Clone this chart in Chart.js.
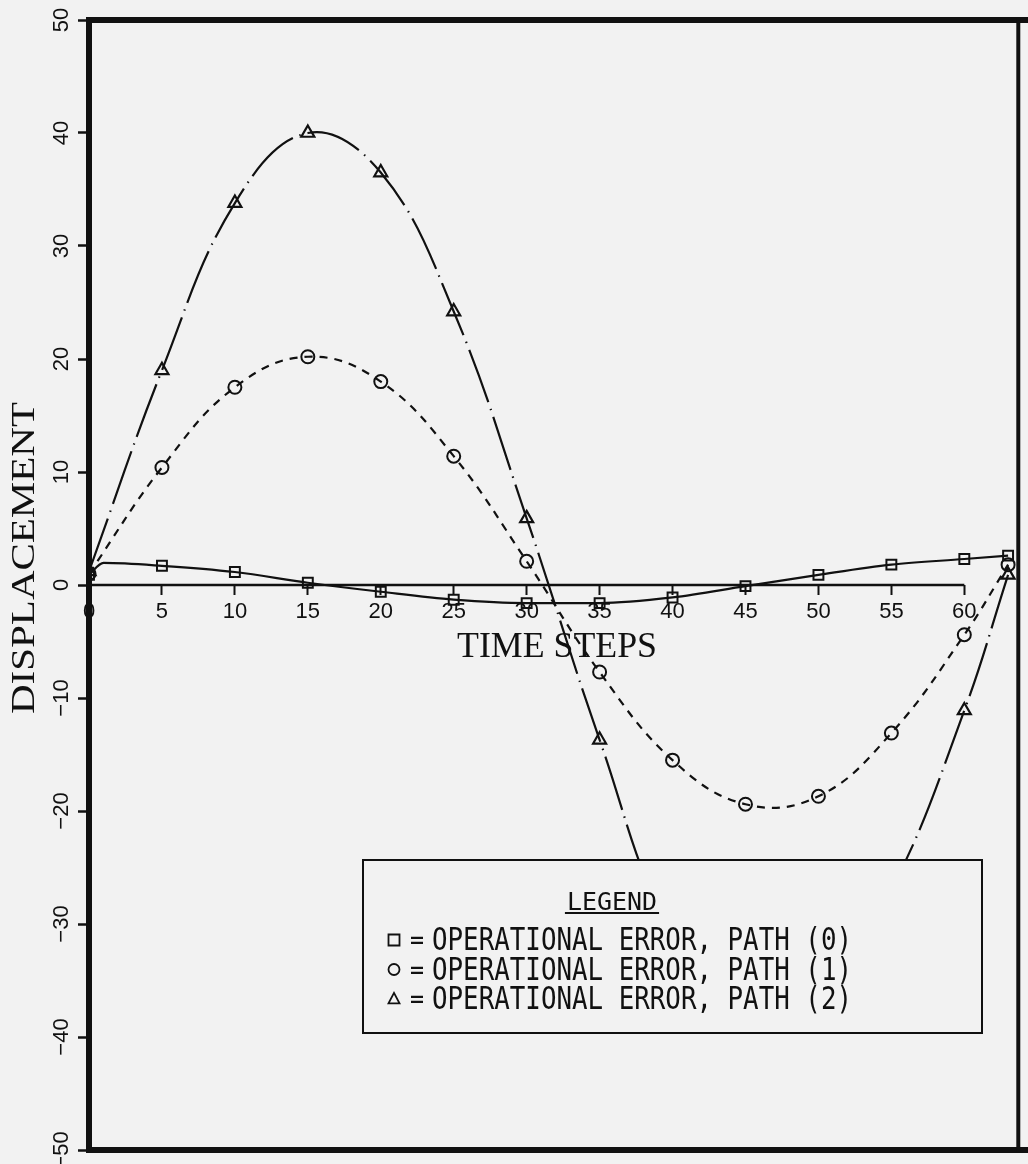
<!DOCTYPE html>
<html>
<head>
<meta charset="utf-8">
<script src="https://cdn.jsdelivr.net/npm/chart.js@4/dist/chart.umd.min.js"></script>
<style>
  html, body { margin: 0; padding: 0; background: #f2f2f2; }
  #wrap { width: 1028px; height: 1164px; }
</style>
</head>
<body>
<div id="wrap"><canvas id="chart" width="1028" height="1164"></canvas></div>
<script>
// time steps where the markers sit
const timeSteps = [0, 5, 10, 15, 20, 25, 30, 35, 40, 45, 50, 55, 60, 63];
// path (0) has one extra unmarked knot at t=1 where the curve bumps up
const path0Steps = [0, 1, 5, 10, 15, 20, 25, 30, 35, 40, 45, 50, 55, 60, 63];
const path0 = [0.9, 1.95, 1.7, 1.15, 0.2, -0.6, -1.3, -1.6, -1.6, -1.1, -0.1, 0.9, 1.8, 2.3, 2.6];
const path1 = [1.0, 10.4, 17.5, 20.2, 18.0, 11.4, 2.1, -7.7, -15.5, -19.4, -18.7, -13.1, -4.4, 1.8];
// 40..55 lie behind the legend box, estimated from the visible ends
const path2 = [1.2, 19.0, 33.8, 40.0, 36.5, 24.2, 5.9, -13.7, -31.0, -37.5, -36.5, -27.0, -11.1, 0.9];

const xTicks = [0, 5, 10, 15, 20, 25, 30, 35, 40, 45, 50, 55, 60];
const yTicks = [-50, -40, -30, -20, -10, 0, 10, 20, 30, 40, 50];

const xTitle = 'TIME STEPS';
const yTitle = 'DISPLACEMENT';
const legendTitle = 'LEGEND';
const legendLabels = ['OPERATIONAL ERROR, PATH (0)', 'OPERATIONAL ERROR, PATH (1)', 'OPERATIONAL ERROR, PATH (2)'];
const legendMarkers = ['rect', 'circle', 'triangle'];

const INK = '#111';
const PAPER = '#f2f2f2';

function toPoints(xs, ys) {
  return ys.map((y, i) => ({ x: xs[i], y: y }));
}

function drawMarker(ctx, style, x, y, r) {
  ctx.beginPath();
  if (style === 'rect') {
    ctx.rect(x - r, y - r, r * 2, r * 2);
  } else if (style === 'circle') {
    ctx.arc(x, y, r, 0, Math.PI * 2);
  } else {
    ctx.moveTo(x, y - r * 1.1);
    ctx.lineTo(x + r, y + r * 0.8);
    ctx.lineTo(x - r, y + r * 0.8);
    ctx.closePath();
  }
  ctx.stroke();
}

// stretches a text horizontally to a given width
function fitText(ctx, text, x, y, width, sy) {
  const w = ctx.measureText(text).width;
  ctx.save();
  ctx.translate(x, y);
  ctx.scale(width / w, sy || 1);
  ctx.fillText(text, 0, 0);
  ctx.restore();
}

const paperPlugin = {
  id: 'paper',
  beforeDraw(chart) {
    const ctx = chart.ctx;
    ctx.save();
    ctx.fillStyle = PAPER;
    ctx.fillRect(0, 0, chart.width, chart.height);
    ctx.restore();
  }
};

const decorPlugin = {
  id: 'decor',
  beforeDatasetsDraw(chart) {
    // the zero axis, drawn from 0 to 60 only
    const { ctx, scales: { x, y } } = chart;
    ctx.save();
    ctx.strokeStyle = INK;
    ctx.lineWidth = 2.5;
    ctx.beginPath();
    ctx.moveTo(x.getPixelForValue(xTicks[0]), y.getPixelForValue(0));
    ctx.lineTo(x.getPixelForValue(xTicks[xTicks.length - 1]), y.getPixelForValue(0));
    ctx.stroke();
    ctx.restore();
  },
  afterDatasetsDraw(chart) {
    const { ctx, chartArea: a, scales: { x, y } } = chart;
    ctx.save();

    // legend box, opaque over the curves
    const bx = 363, by = 860, bw = 619, bh = 173;
    ctx.fillStyle = PAPER;
    ctx.fillRect(bx, by, bw, bh);
    ctx.strokeStyle = INK;
    ctx.lineWidth = 2;
    ctx.strokeRect(bx, by, bw, bh);

    ctx.fillStyle = INK;
    ctx.textAlign = 'left';
    ctx.textBaseline = 'alphabetic';
    ctx.font = '26px "DejaVu Sans Mono"';
    const tw = ctx.measureText(legendTitle).width * 0.96;
    fitText(ctx, legendTitle, 612 - tw / 2, 910, tw, 0.92);
    ctx.lineWidth = 2;
    ctx.beginPath();
    ctx.moveTo(612 - tw / 2 - 2, 913);
    ctx.lineTo(612 + tw / 2 + 2, 913);
    ctx.stroke();

    legendLabels.forEach((label, i) => {
      const base = 950 + i * 29.5;
      ctx.lineWidth = 1.8;
      drawMarker(ctx, legendMarkers[i], 394, base - 10, 5.5);
      ctx.font = '26px "DejaVu Sans Mono"';
      fitText(ctx, '=', 410, base - 1, 14, 1);
      fitText(ctx, label, 432, base, 420, 1.2);
    });

    // frame
    ctx.strokeStyle = INK;
    ctx.lineCap = 'square';
    ctx.lineWidth = 6;
    ctx.beginPath();
    ctx.moveTo(a.right + 10, a.top);
    ctx.lineTo(a.left, a.top);
    ctx.lineTo(a.left, a.bottom);
    ctx.lineTo(a.right + 10, a.bottom);
    ctx.stroke();
    ctx.lineWidth = 4;
    ctx.beginPath();
    ctx.moveTo(a.right, a.top);
    ctx.lineTo(a.right, a.bottom);
    ctx.stroke();

    // rotated y tick labels
    ctx.font = '22px "Liberation Sans"';
    ctx.textAlign = 'center';
    ctx.textBaseline = 'middle';
    yTicks.forEach(v => {
      const py = y.getPixelForValue(v);
      ctx.save();
      ctx.translate(62, py);
      ctx.rotate(-Math.PI / 2);
      ctx.fillText(v < 0 ? '\u2212' + Math.abs(v) : String(v), 0, 0);
      ctx.restore();
    });

    // axis titles
    ctx.font = '34px "Liberation Serif"';
    ctx.textAlign = 'left';
    ctx.textBaseline = 'middle';
    ctx.save();
    ctx.translate(25, 558);
    ctx.rotate(-Math.PI / 2);
    fitText(ctx, yTitle, -156, 0, 312, 1);
    ctx.restore();

    ctx.font = '36px "Liberation Serif"';
    fitText(ctx, xTitle, 457, 648, 200, 1);

    ctx.restore();
  }
};

const ctx = document.getElementById('chart').getContext('2d');
new Chart(ctx, {
  type: 'line',
  data: {
    datasets: [
      {
        label: legendLabels[0],
        data: toPoints(path0Steps, path0),
        borderColor: INK,
        borderWidth: 2.2,
        cubicInterpolationMode: 'monotone',
        pointStyle: 'rect',
        pointRadius: c => (c.raw && c.raw.x === 1 ? 0 : 7),
        pointBorderWidth: 2,
        pointBorderColor: INK,
        pointBackgroundColor: 'rgba(0,0,0,0)'
      },
      {
        label: legendLabels[1],
        data: toPoints(timeSteps, path1),
        borderColor: INK,
        borderWidth: 2.2,
        borderDash: [8, 7],
        tension: 0.4,
        pointStyle: 'circle',
        pointRadius: 6.5,
        pointBorderWidth: 2,
        pointBorderColor: INK,
        pointBackgroundColor: 'rgba(0,0,0,0)'
      },
      {
        label: legendLabels[2],
        data: toPoints(timeSteps, path2),
        borderColor: INK,
        borderWidth: 2.2,
        borderDash: [56, 7, 1.5, 7],
        tension: 0.4,
        pointStyle: 'triangle',
        pointRadius: 7.5,
        pointBorderWidth: 2.2,
        pointBorderColor: INK,
        pointBackgroundColor: 'rgba(0,0,0,0)'
      }
    ]
  },
  options: {
    responsive: false,
    animation: false,
    layout: { padding: { top: 20, right: 2, bottom: 14, left: 0 } },
    plugins: {
      legend: { display: false },
      tooltip: { enabled: false }
    },
    scales: {
      x: {
        type: 'linear',
        position: { y: 0 },
        min: 0,
        max: 63.7,
        afterBuildTicks: s => { s.ticks = xTicks.map(v => ({ value: v })); },
        border: { display: false },
        grid: {
          drawOnChartArea: false,
          drawTicks: true,
          tickLength: 10,
          tickWidth: 2,
          tickColor: INK
        },
        ticks: {
          color: INK,
          padding: 4,
          maxRotation: 0,
          autoSkip: false,
          font: { family: 'Liberation Sans', size: 22 }
        }
      },
      y: {
        type: 'linear',
        position: 'left',
        min: -50,
        max: 50,
        afterBuildTicks: s => { s.ticks = yTicks.map(v => ({ value: v })); },
        afterFit: s => { s.width = 89; },
        border: { display: false },
        grid: {
          drawOnChartArea: false,
          drawTicks: true,
          tickLength: 11,
          tickWidth: 2.5,
          tickColor: INK
        },
        ticks: { display: false }
      }
    }
  },
  plugins: [paperPlugin, decorPlugin]
});
</script>
</body>
</html>
